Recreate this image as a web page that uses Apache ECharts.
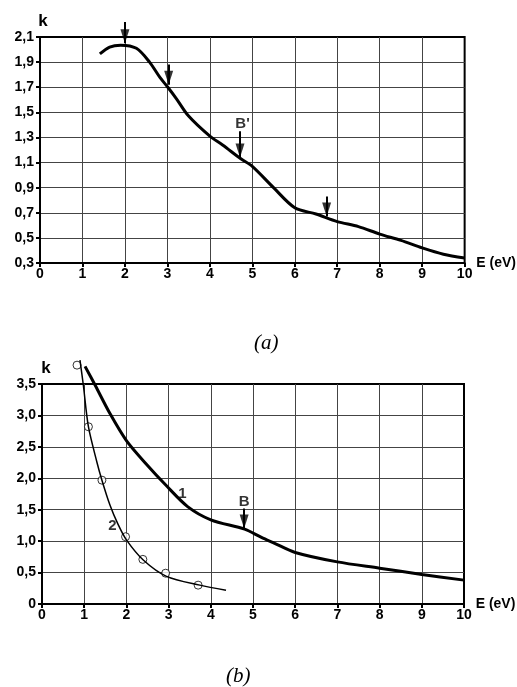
<!DOCTYPE html>
<html>
<head>
<meta charset="utf-8">
<script src="https://cdn.jsdelivr.net/npm/echarts@6/dist/echarts.min.js"></script>
<style>
  html, body { margin: 0; padding: 0; background: #fff; }
  #chart { width: 517px; height: 687px; }
</style>
</head>
<body>
<div id="chart"></div>
<script>
// (a) curve
const aX = [1.41, 1.64, 1.9, 2.27, 2.58, 2.82, 3.01, 3.21, 3.5, 4.0, 4.3, 4.73, 5.0, 5.5, 6.0, 6.5, 7.0, 7.5, 8.0, 8.5, 9.0, 9.5, 10]
const aK = [1.965, 2.02, 2.035, 2.01, 1.90, 1.78, 1.70, 1.61, 1.47, 1.31, 1.24, 1.13, 1.07, 0.90, 0.74, 0.69, 0.63, 0.59, 0.53, 0.48, 0.42, 0.37, 0.34]
// (a) arrows (shaft top -> tip)
const aArrowX = [2.0, 3.03, 4.71, 6.75]
const aArrowFrom = [2.22, 1.88, 1.35, 0.83]
const aArrowTo = [2.05, 1.72, 1.14, 0.67]
const aLabels = [{ name: "B'", x: 4.77, k: 1.405 }]

// (b) curve 1
const b1X = [1.02, 1.26, 1.61, 2.0, 2.48, 2.95, 3.45, 4.0, 4.8, 5.2, 5.5, 6.0, 7.0, 8.0, 9.0, 10]
const b1K = [3.78, 3.48, 3.03, 2.60, 2.22, 1.88, 1.55, 1.34, 1.19, 1.06, 0.97, 0.82, 0.67, 0.57, 0.47, 0.38]
// (b) curve 2
const b2X = [0.90, 0.98, 1.1, 1.3, 1.42, 1.61, 1.8, 2.0, 2.4, 2.95, 3.74, 4.36]
const b2K = [3.88, 3.48, 2.82, 2.26, 1.97, 1.575, 1.27, 1.02, 0.70, 0.44, 0.30, 0.22]
// (b) measured points
const b2PtX = [0.83, 1.10, 1.42, 1.98, 2.39, 2.93, 3.70]
const b2PtK = [3.80, 2.82, 1.97, 1.07, 0.71, 0.49, 0.30]
// (b) arrow + labels
const bArrowX = [4.79]
const bArrowFrom = [1.52]
const bArrowTo = [1.20]
const bLabels = [
  { name: '1', x: 3.33, k: 1.75 },
  { name: '2', x: 1.67, k: 1.24 },
  { name: 'B', x: 4.79, k: 1.62 }
]

const xTicks = [0, 1, 2, 3, 4, 5, 6, 7, 8, 9, 10]

const zip = (xs, ys) => xs.map((x, i) => [x, ys[i]])
const shafts = (xs, from, to) => xs.map((x, i) => ({ coords: [[x, from[i]], [x, to[i]]] }))
const labels = arr => arr.map(l => ({ name: l.name, value: [l.x, l.k] }))

const font = 'Liberation Sans, Arial, sans-serif'
const axisLabel = { color: '#000', fontFamily: font, fontWeight: 'bold', fontSize: 14 }
const headPath = 'path://M0,0 L10,0 L5,16 Z'

function makeX (idx) {
  return {
    gridIndex: idx,
    type: 'value',
    min: 0,
    max: 10,
    interval: 1,
    name: 'E (eV)',
    nameLocation: 'end',
    nameGap: 7,
    nameTextStyle: { color: '#000', fontFamily: font, fontWeight: 'bold', fontSize: 14 },
    axisLine: { lineStyle: { color: '#000', width: 2 } },
    axisTick: { show: true, length: 4, lineStyle: { color: '#000', width: 2 } },
    axisLabel: Object.assign({ margin: 4, formatter: v => xTicks.includes(v) ? String(v) : '' }, axisLabel),
    splitLine: { show: true, showMinLine: false, showMaxLine: false, lineStyle: { color: '#444', width: 1 } }
  }
}

function makeY (idx, min, max, interval, fmt, pad) {
  return {
    gridIndex: idx,
    type: 'value',
    min: min,
    max: max,
    interval: interval,
    name: 'k',
    nameLocation: 'end',
    nameGap: 6,
    nameTextStyle: { color: '#000', fontFamily: font, fontWeight: 'bold', fontSize: 17, padding: [0, 0, 0, pad] },
    axisLine: { lineStyle: { color: '#000', width: 2 } },
    axisTick: { show: true, length: 4, lineStyle: { color: '#000', width: 2 } },
    axisLabel: Object.assign({ margin: 6, formatter: fmt }, axisLabel),
    splitLine: { show: true, showMinLine: false, showMaxLine: false, lineStyle: { color: '#444', width: 1 } }
  }
}

function arrowSeries (idx, xs, from, to) {
  return [
    {
      type: 'lines', coordinateSystem: 'cartesian2d', xAxisIndex: idx, yAxisIndex: idx,
      data: shafts(xs, from, to), clip: false, symbol: 'none',
      lineStyle: { color: '#000', width: 2, opacity: 1 }
    },
    {
      type: 'scatter', xAxisIndex: idx, yAxisIndex: idx,
      data: zip(xs, to), clip: false,
      symbol: headPath, symbolSize: [9, 14], symbolOffset: [0, '-50%'], symbolKeepAspect: false,
      itemStyle: { color: '#000' }, z: 5
    }
  ]
}

function labelSeries (idx, arr) {
  return {
    type: 'scatter', xAxisIndex: idx, yAxisIndex: idx,
    data: labels(arr), symbolSize: 1, clip: false,
    itemStyle: { color: 'rgba(0,0,0,0)' },
    label: { show: true, position: 'inside', formatter: '{b}', color: '#000', fontFamily: font, fontWeight: 'bold', fontSize: 15 }
  }
}

const chart = echarts.init(document.getElementById('chart'), null, { renderer: 'canvas' })

const captionStyle = { fontFamily: 'Liberation Serif, serif', fontStyle: 'italic', fontWeight: 'normal', fontSize: 21, color: '#000' }

const option = {
  backgroundColor: '#fff',
  animation: false,
  title: [
    { text: '(a)', left: 249, top: 328, textStyle: captionStyle },
    { text: '(b)', left: 221, top: 661, textStyle: captionStyle }
  ],
  grid: [
    { left: 40, top: 37, width: 426, height: 226, show: true, borderColor: '#000', borderWidth: 2, backgroundColor: 'transparent' },
    { left: 42, top: 384, width: 422, height: 220, show: true, borderColor: '#000', borderWidth: 2, backgroundColor: 'transparent' }
  ],
  xAxis: [makeX(0), makeX(1)],
  yAxis: [
    makeY(0, 0.3, 2.1, 0.2, v => v.toFixed(1).replace('.', ','), 6),
    makeY(1, 0, 3.5, 0.5, v => v === 0 ? '0' : v.toFixed(1).replace('.', ','), 8)
  ],
  series: [
    {
      type: 'line', xAxisIndex: 0, yAxisIndex: 0,
      data: zip(aX, aK), smooth: 0.3, symbol: 'none', clip: false,
      lineStyle: { color: '#000', width: 3 }
    },
    ...arrowSeries(0, aArrowX, aArrowFrom, aArrowTo),
    labelSeries(0, aLabels),
    {
      type: 'line', xAxisIndex: 1, yAxisIndex: 1,
      data: zip(b1X, b1K), smooth: 0.3, symbol: 'none', clip: false,
      lineStyle: { color: '#000', width: 3 }
    },
    {
      type: 'line', xAxisIndex: 1, yAxisIndex: 1,
      data: zip(b2X, b2K), smooth: 0.3, symbol: 'none', clip: false,
      lineStyle: { color: '#000', width: 1.5 }
    },
    {
      type: 'scatter', xAxisIndex: 1, yAxisIndex: 1,
      data: zip(b2PtX, b2PtK), symbol: 'circle', symbolSize: 8, clip: false,
      itemStyle: { color: '#fff', borderColor: '#000', borderWidth: 1 }
    },
    ...arrowSeries(1, bArrowX, bArrowFrom, bArrowTo),
    labelSeries(1, bLabels)
  ]
}

chart.setOption(option)
</script>
</body>
</html>
